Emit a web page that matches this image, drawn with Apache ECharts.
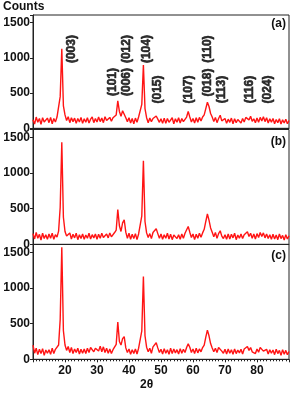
<!DOCTYPE html>
<html>
<head>
<meta charset="utf-8">
<script src="https://cdn.jsdelivr.net/npm/echarts@6/dist/echarts.min.js"></script>
<style>html,body{margin:0;padding:0;background:#fff;}#chart{width:293px;height:393px;}</style>
</head>
<body>
<div id="chart"></div>
<script>
// 2θ sampling grid: 10 .. 90 step 0.5 (161 points)
const twoThetaStart = 10;
const twoThetaStep = 0.5;

const countsA = [
 120,60,160,85,140,55,150,90,70,145,
 80,155,65,140,90,160,180,450,1130,320,
 190,110,165,80,150,95,145,70,140,90,
 155,70,135,85,150,75,130,160,80,140,
 90,160,95,145,80,165,110,90,155,100,
 150,130,190,390,240,170,250,270,150,95,
 150,75,140,65,145,85,160,165,340,900,
 280,150,80,145,95,140,150,175,130,85,
 135,70,145,70,140,85,80,150,65,135,
 85,150,75,140,95,80,160,240,160,90,
 140,75,150,85,155,105,160,190,280,370,
 310,210,160,95,155,80,140,185,105,85,
 140,70,130,85,145,65,135,80,125,145,
 75,140,90,155,165,120,170,100,135,80,
 145,85,155,105,165,95,150,75,135,85,
 140,65,125,80,135,60,120,75,130,65,
 110
];
const countsB = [
 150,75,165,85,140,60,155,80,135,70,
 145,85,155,70,135,100,185,520,1430,380,
 180,115,90,160,75,140,90,155,65,135,
 80,145,70,130,85,155,75,135,90,145,
 70,140,85,155,95,80,145,90,160,105,
 95,165,200,486,260,180,300,344,170,85,
 155,70,140,80,150,65,145,170,400,1170,
 320,160,95,150,80,165,190,220,150,85,
 145,70,135,85,155,75,140,65,130,150,
 80,135,70,145,85,155,160,250,170,95,
 145,65,140,85,155,100,160,210,320,425,
 340,230,170,105,165,85,150,190,115,80,
 135,70,145,75,140,90,155,65,130,85,
 145,80,135,160,175,110,155,85,145,75,
 150,95,165,110,160,90,145,80,135,70,
 140,75,130,65,145,80,125,60,135,75,
 120
];
const countsC = [
 200,85,155,65,140,80,150,55,130,85,
 135,70,155,80,140,120,200,560,1570,400,
 200,125,180,95,165,80,145,95,155,75,
 140,85,145,80,155,95,165,190,105,155,
 165,115,185,105,175,95,155,85,145,80,
 135,125,210,522,250,200,290,319,160,95,
 145,70,135,80,145,75,155,170,400,1160,
 330,170,105,155,85,175,200,232,160,95,
 140,75,150,85,135,70,155,80,145,90,
 135,75,150,85,140,95,165,217,170,95,
 145,80,155,90,145,105,165,200,310,410,
 330,220,160,105,155,95,165,190,115,85,
 140,75,145,85,135,70,145,80,130,90,
 140,75,145,160,180,125,165,105,125,80,
 145,100,165,185,115,95,140,75,135,85,
 130,65,140,80,125,55,135,70,125,65,
 110
];

const xTickLabels = [20,30,40,50,60,70,80];
const yTickLabels = [0,500,1000,1500];

const peakNames = ['(003)','(101)','(006)','(012)','(104)','(015)','(107)','(018)','(110)','(113)','(116)','(024)'];
const peakLabelX = [22.2,35.0,39.4,39.4,45.5,49.1,58.75,64.7,64.7,69.1,77.8,83.4];
const peakLabelY = [1126,658,658,1126,1126,551,551,650,1126,551,551,551];

const panelNames = ['(a)','(b)','(c)'];

const FONT = '"Liberation Sans", Arial, sans-serif';
const toPairs = arr => arr.map((v,i) => [twoThetaStart + i*twoThetaStep, v]);

const gridDefs = [
  {top:15, height:113.3},
  {top:129.5, height:114.8},
  {top:244.5, height:114.8}
];

const chart = echarts.init(document.getElementById('chart'), null, {renderer:'canvas'});

const grids = gridDefs.map(g => ({left:33, right:4, top:g.top, height:g.height, show:true, borderColor:'#222', borderWidth:1, backgroundColor:'transparent'}));

const xAxes = gridDefs.map((g,i) => ({
  type:'value', gridIndex:i, min:10, max:90, interval:10,
  axisLine:{show:true, onZero:false, lineStyle:{color:'#222', width:1}},
  axisTick:{show:i===2, length:3, lineStyle:{color:'#222'}},
  minorTick:{show:i===2, splitNumber:10, length:2, lineStyle:{color:'#222'}},
  splitLine:{show:false},
  axisLabel:{show:i===2, margin:5, color:'#111', fontSize:12, fontWeight:'bold', fontFamily:FONT,
    formatter: v => xTickLabels.includes(v) ? String(v) : ''}
}));

const yAxes = gridDefs.map((g,i) => ({
  type:'value', gridIndex:i, min:0, max:1610, interval:500,
  axisLine:{show:true, lineStyle:{color:'#222', width:1}},
  axisTick:{show:true, length:3, lineStyle:{color:'#222'}},
  splitLine:{show:false},
  axisLabel:{margin:3, color:'#111', fontSize:12, fontWeight:'bold', fontFamily:FONT,
    formatter: v => yTickLabels.includes(v) ? String(v) : ''}
}));

const lineSeries = [countsA, countsB, countsC].map((arr,i) => ({
  type:'line', xAxisIndex:i, yAxisIndex:i, data:toPairs(arr),
  showSymbol:false, symbol:'none', clip:true,
  lineStyle:{color:'#ff1414', width:1.4}, z:2
}));

const labelSeries = {
  type:'scatter', xAxisIndex:0, yAxisIndex:0, symbolSize:0, silent:true, z:5,
  data: peakNames.map((n,i) => ({value:[peakLabelX[i], peakLabelY[i]], name:n})),
  label:{show:true, position:'inside', rotate:90, formatter: p => p.name,
    color:'#000', fontSize:12, fontWeight:700, fontFamily:FONT, align:'center', verticalAlign:'middle',
    textBorderColor:'#000', textBorderWidth:0.6},
  emphasis:{disabled:true}
};

const panelTop = [25, 142.5, 256.5];
const graphics = [
  {type:'text', left:3, top:1, style:{text:'Counts', fill:'#111', font:'bold 12px ' + FONT}},
  {type:'text', left:140, top:379, style:{text:'2θ', fill:'#111', font:'bold 12px ' + FONT}}
].concat(panelNames.map((n,i) => ({
  type:'text', right:7, top:panelTop[i]-7, style:{text:n, fill:'#111', font:'bold 12px ' + FONT}
})));

chart.setOption({
  animation:false,
  backgroundColor:'#fff',
  grid:grids,
  xAxis:xAxes,
  yAxis:yAxes,
  series:lineSeries.concat([labelSeries]),
  graphic:graphics
});
</script>
</body>
</html>
